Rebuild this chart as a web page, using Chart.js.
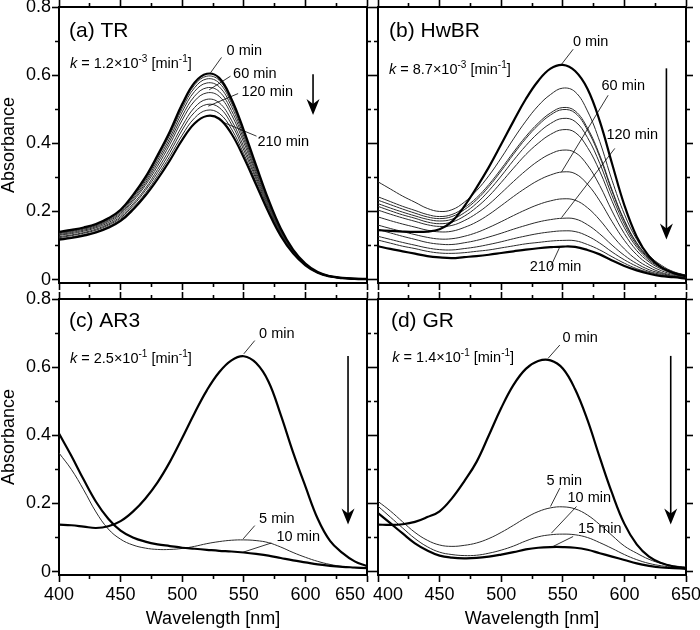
<!DOCTYPE html>
<html>
<head>
<meta charset="utf-8">
<script src="https://cdn.jsdelivr.net/npm/chart.js@4.4.1/dist/chart.umd.min.js"></script>
<style>
  body { margin: 0; background: #fff; }
  #wrap { position: relative; width: 700px; height: 630px; }
  canvas { position: absolute; }
</style>
</head>
<body>
<div id="wrap">
  <canvas id="panelA" width="372" height="290" style="left:0;top:0"></canvas>
  <canvas id="panelB" width="328" height="290" style="left:372px;top:0"></canvas>
  <canvas id="panelC" width="372" height="340" style="left:0;top:290px"></canvas>
  <canvas id="panelD" width="328" height="340" style="left:372px;top:290px"></canvas>
</div>
<script>
// wavelength grid shared by all spectra (nm)
const wavelengths = [400, 410, 420, 430, 440, 450, 460, 470, 480, 490, 500, 510, 520,
                     530, 540, 550, 560, 570, 580, 590, 600, 610, 620, 630, 640, 650];

// axis ticks
const xMajorTicks = [400, 450, 500, 550, 600, 650];
const xTicks = [400, 425, 450, 475, 500, 525, 550, 575, 600, 625, 650];
const yMajorTicks = [0, 0.2, 0.4, 0.6, 0.8];
const yTickLabels = ['0', '0.2', '0.4', '0.6', '0.8'];
const yTicks = [0, 0.1, 0.2, 0.3, 0.4, 0.5, 0.6, 0.7, 0.8];

// (a) TR, 0 min (top) ... 210 min (bottom)
const tr0 = [0.140,0.146,0.153,0.163,0.180,0.205,0.248,0.300,0.365,0.435,0.515,0.578,0.604,0.592,0.530,0.438,0.335,0.235,0.150,0.088,0.047,0.022,0.010,0.005,0.003,0.002];
const tr1 = [0.139,0.145,0.152,0.162,0.178,0.203,0.246,0.297,0.361,0.430,0.509,0.571,0.597,0.585,0.524,0.434,0.332,0.233,0.149,0.087,0.047,0.022,0.010,0.005,0.003,0.002];
const tr2 = [0.137,0.143,0.150,0.160,0.177,0.201,0.243,0.293,0.357,0.425,0.502,0.563,0.589,0.577,0.518,0.428,0.328,0.231,0.147,0.087,0.046,0.022,0.010,0.005,0.003,0.002];
const tr3 = [0.135,0.141,0.148,0.158,0.174,0.198,0.239,0.288,0.350,0.416,0.492,0.552,0.577,0.566,0.508,0.421,0.323,0.227,0.145,0.086,0.046,0.021,0.010,0.005,0.002,0.001];
const tr4 = [0.132,0.138,0.145,0.155,0.171,0.194,0.234,0.282,0.342,0.407,0.480,0.538,0.563,0.552,0.496,0.412,0.316,0.223,0.143,0.084,0.045,0.021,0.010,0.005,0.002,0.001];
const tr5 = [0.130,0.135,0.142,0.152,0.167,0.190,0.229,0.276,0.333,0.397,0.468,0.524,0.548,0.538,0.484,0.402,0.309,0.218,0.140,0.083,0.045,0.021,0.010,0.005,0.002,0.001];
const tr6 = [0.126,0.131,0.138,0.148,0.163,0.185,0.222,0.267,0.323,0.384,0.451,0.505,0.529,0.519,0.468,0.390,0.301,0.213,0.137,0.081,0.044,0.021,0.009,0.004,0.002,0.001];
const tr7 = [0.123,0.129,0.136,0.145,0.160,0.181,0.217,0.261,0.314,0.373,0.439,0.491,0.514,0.505,0.456,0.380,0.294,0.208,0.134,0.080,0.043,0.020,0.009,0.004,0.002,0.001];
const tr8 = [0.120,0.125,0.132,0.141,0.156,0.177,0.211,0.253,0.305,0.362,0.424,0.474,0.497,0.488,0.442,0.369,0.286,0.203,0.131,0.079,0.043,0.020,0.009,0.004,0.002,0.001];
const tr9 = [0.117,0.122,0.129,0.138,0.152,0.172,0.205,0.246,0.295,0.350,0.410,0.458,0.480,0.472,0.428,0.358,0.278,0.198,0.128,0.077,0.042,0.020,0.009,0.004,0.002,0.001];

// (b) HwBR
const hw0 = [0.145,0.143,0.141,0.140,0.141,0.148,0.170,0.215,0.270,0.330,0.397,0.465,0.530,0.583,0.619,0.630,0.612,0.560,0.465,0.340,0.218,0.126,0.068,0.036,0.019,0.010];
const hw1 = [0.287,0.266,0.245,0.227,0.209,0.200,0.205,0.227,0.261,0.305,0.357,0.413,0.465,0.510,0.543,0.562,0.551,0.495,0.405,0.291,0.192,0.118,0.071,0.042,0.023,0.013];
const hw2 = [0.243,0.229,0.215,0.203,0.191,0.185,0.191,0.211,0.240,0.279,0.325,0.374,0.420,0.459,0.489,0.505,0.495,0.445,0.365,0.263,0.174,0.108,0.065,0.038,0.022,0.012];
const hw3 = [0.233,0.220,0.207,0.195,0.184,0.179,0.185,0.205,0.234,0.273,0.319,0.368,0.414,0.453,0.483,0.499,0.489,0.439,0.360,0.259,0.171,0.106,0.063,0.037,0.021,0.012];
const hw4 = [0.223,0.210,0.198,0.187,0.177,0.172,0.177,0.196,0.224,0.261,0.304,0.350,0.393,0.430,0.458,0.473,0.464,0.417,0.341,0.246,0.163,0.101,0.061,0.035,0.020,0.011];
const hw5 = [0.215,0.202,0.190,0.180,0.169,0.164,0.169,0.186,0.212,0.245,0.285,0.327,0.367,0.400,0.426,0.440,0.432,0.388,0.318,0.230,0.152,0.095,0.057,0.034,0.019,0.010];
const hw6 = [0.204,0.192,0.181,0.171,0.161,0.156,0.159,0.173,0.194,0.221,0.254,0.288,0.320,0.348,0.369,0.380,0.373,0.336,0.276,0.201,0.135,0.085,0.052,0.031,0.018,0.010];
const hw7 = [0.184,0.173,0.163,0.154,0.145,0.140,0.142,0.153,0.169,0.191,0.217,0.244,0.269,0.291,0.307,0.316,0.311,0.280,0.231,0.170,0.115,0.073,0.044,0.026,0.015,0.008];
const hw8 = [0.160,0.150,0.141,0.132,0.124,0.119,0.120,0.127,0.138,0.153,0.170,0.188,0.205,0.220,0.231,0.237,0.233,0.211,0.175,0.130,0.090,0.058,0.036,0.021,0.012,0.007];
const hw9 = [0.147,0.137,0.127,0.118,0.109,0.104,0.103,0.108,0.115,0.125,0.136,0.148,0.159,0.169,0.176,0.180,0.178,0.161,0.134,0.101,0.071,0.047,0.029,0.018,0.010,0.006];
const hw10 = [0.127,0.118,0.109,0.101,0.093,0.088,0.087,0.091,0.096,0.103,0.111,0.120,0.128,0.135,0.140,0.143,0.141,0.128,0.107,0.081,0.058,0.039,0.024,0.015,0.009,0.005];
const hw11 = [0.116,0.107,0.098,0.091,0.083,0.078,0.077,0.079,0.083,0.087,0.093,0.099,0.105,0.109,0.113,0.115,0.114,0.103,0.087,0.067,0.048,0.032,0.021,0.012,0.008,0.004];
const hw12 = [0.098,0.090,0.083,0.076,0.069,0.065,0.063,0.066,0.069,0.073,0.078,0.083,0.088,0.092,0.095,0.097,0.096,0.087,0.074,0.056,0.040,0.027,0.017,0.010,0.007,0.003];

// (c) AR3
const ar0 = [0.138,0.136,0.132,0.128,0.133,0.148,0.176,0.214,0.262,0.322,0.392,0.465,0.532,0.585,0.620,0.632,0.612,0.558,0.460,0.350,0.250,0.155,0.090,0.055,0.030,0.016];
const ar5 = [0.348,0.300,0.240,0.175,0.125,0.095,0.078,0.069,0.065,0.065,0.068,0.074,0.082,0.088,0.092,0.093,0.091,0.085,0.072,0.056,0.042,0.030,0.021,0.015,0.011,0.009];
const ar10 = [0.405,0.340,0.270,0.205,0.155,0.120,0.100,0.088,0.080,0.075,0.070,0.067,0.064,0.061,0.059,0.056,0.052,0.047,0.040,0.033,0.027,0.021,0.017,0.014,0.012,0.010];

// (d) GR
const gr0 = [0.138,0.137,0.139,0.146,0.160,0.177,0.215,0.265,0.322,0.400,0.480,0.548,0.595,0.618,0.620,0.596,0.535,0.445,0.335,0.230,0.140,0.080,0.044,0.025,0.015,0.010];
const gr5 = [0.206,0.178,0.146,0.115,0.092,0.078,0.074,0.077,0.084,0.097,0.115,0.136,0.158,0.176,0.187,0.190,0.184,0.166,0.138,0.106,0.075,0.054,0.036,0.024,0.017,0.013];
const gr10 = [0.192,0.160,0.128,0.097,0.073,0.057,0.050,0.047,0.048,0.054,0.063,0.075,0.090,0.102,0.108,0.110,0.108,0.100,0.085,0.068,0.050,0.035,0.024,0.017,0.013,0.011];
const gr15 = [0.172,0.142,0.112,0.083,0.062,0.047,0.041,0.039,0.040,0.044,0.050,0.057,0.065,0.070,0.072,0.072,0.070,0.064,0.054,0.044,0.034,0.024,0.017,0.012,0.010,0.008];

const FONT = '"Liberation Sans", Arial, Helvetica, sans-serif';
Chart.defaults.font.family = FONT;
Chart.defaults.color = '#000';

function drawRate(ctx, x, y, mant, exp) {
  const parts = [
    { t: 'k', f: 'italic 14.5px ' + FONT },
    { t: ' = ' + mant + '\u00d710', f: '14.5px ' + FONT },
    { t: exp, f: '10px ' + FONT, dy: -6 },
    { t: ' [min', f: '14.5px ' + FONT },
    { t: '-1', f: '10px ' + FONT, dy: -6 },
    { t: ']', f: '14.5px ' + FONT }
  ];
  let cx = x;
  parts.forEach(p => {
    ctx.font = p.f;
    ctx.fillText(p.t, cx, y + (p.dy || 0));
    cx += ctx.measureText(p.t).width;
  });
}

function drawArrow(ctx, x, yTop, yTip) {
  ctx.lineWidth = 1.6;
  ctx.beginPath();
  ctx.moveTo(x, yTop);
  ctx.lineTo(x, yTip - 8);
  ctx.stroke();
  ctx.beginPath();
  ctx.moveTo(x, yTip);
  ctx.lineTo(x - 6.5, yTip - 16);
  ctx.lineTo(x, yTip - 11);
  ctx.lineTo(x + 6.5, yTip - 16);
  ctx.closePath();
  ctx.fill();
}

// panel labels, rate constants, time labels with leader lines, arrows
const annotate = {
  id: 'annotate',
  afterDatasetsDraw(chart, args, o) {
    const { ctx, scales: { x, y } } = chart;
    const px = v => x.getPixelForValue(v);
    const py = v => y.getPixelForValue(v);
    ctx.save();
    ctx.fillStyle = '#000';
    ctx.strokeStyle = '#000';
    ctx.textBaseline = 'alphabetic';
    ctx.textAlign = 'left';

    ctx.font = '21px ' + FONT;
    ctx.fillText(o.title.text, px(o.title.at[0]), py(o.title.at[1]));

    drawRate(ctx, px(o.rate.at[0]), py(o.rate.at[1]), o.rate.mant, o.rate.exp);

    ctx.font = '14.5px ' + FONT;
    ctx.lineWidth = 0.8;
    o.labels.forEach(l => {
      ctx.fillText(l.text, px(l.at[0]), py(l.at[1]));
      ctx.beginPath();
      ctx.moveTo(px(l.from[0]), py(l.from[1]));
      ctx.lineTo(px(l.to[0]), py(l.to[1]));
      ctx.stroke();
    });

    drawArrow(ctx, px(o.arrow.x), py(o.arrow.from), py(o.arrow.to));

    if (o.xLabels) {
      ctx.font = '18px ' + FONT;
      const base = chart.chartArea.bottom + 25;
      xMajorTicks.forEach(v => {
        const side = o.xLabels[v];
        if (side === 'right') {
          ctx.textAlign = 'right';
          ctx.fillText(String(v), px(v) - 2, base);
        } else if (side === 'left') {
          ctx.textAlign = 'left';
          ctx.fillText(String(v), px(v) - 5, base);
        } else {
          ctx.textAlign = 'center';
          ctx.fillText(String(v), px(v), base);
        }
      });
    }
    ctx.restore();
  }
};

function gridFor(position, isMajor) {
  const outerFirst = position === 'left' || position === 'top';
  return {
    display: true,
    drawOnChartArea: false,
    drawTicks: true,
    tickLength: 7,
    tickColor: '#000',
    tickWidth: 1.6,
    tickBorderDash: c => (!c.tick || isMajor(c.tick.value)) ? [] : (outerFirst ? [0, 3, 3, 30] : [3, 30])
  };
}

function xAxis(position, size, withTitle) {
  return {
    type: 'linear', position, min: 400, max: 650,
    afterBuildTicks: s => { s.ticks = xTicks.map(v => ({ value: v })); },
    afterFit: s => { s.height = size; s.paddingLeft = 0; s.paddingRight = 0; },
    ticks: { display: false },
    grid: gridFor(position, v => xMajorTicks.includes(v)),
    border: { display: true, color: '#000', width: 2 },
    title: withTitle
      ? { display: true, text: 'Wavelength [nm]', color: '#000', font: { size: 18, lineHeight: 1 }, padding: { top: 0, bottom: 2 } }
      : { display: false }
  };
}

function yAxis(position, size, withLabels) {
  return {
    type: 'linear', position, min: -0.01, max: 0.8,
    afterBuildTicks: s => { s.ticks = yTicks.map(v => ({ value: v })); },
    afterFit: s => { s.width = size; s.paddingTop = 0; s.paddingBottom = 0; },
    ticks: {
      display: withLabels, color: '#000', padding: 1, font: { size: 18 },
      callback: v => { const i = yMajorTicks.indexOf(v); return i < 0 ? '' : yTickLabels[i]; }
    },
    grid: gridFor(position, v => yMajorTicks.includes(v)),
    border: { display: true, color: '#000', width: 2 },
    title: withLabels
      ? { display: true, text: 'Absorbance', color: '#000', font: { size: 18, lineHeight: 1 }, padding: { top: 0, bottom: 0 } }
      : { display: false }
  };
}

function makePanel(id, cfg) {
  const datasets = cfg.series.map(s => ({
    data: wavelengths.map((w, i) => ({ x: w, y: s.values[i] })),
    borderColor: s.thick ? '#000' : '#2a2a2a',
    borderWidth: s.thick ? 2.2 : 1,
    pointRadius: 0,
    tension: 0.4,
    fill: false
  }));
  return new Chart(document.getElementById(id), {
    type: 'line',
    data: { datasets },
    options: {
      responsive: false,
      animation: false,
      events: [],
      layout: { padding: 0 },
      plugins: { legend: { display: false }, tooltip: { enabled: false }, annotate: cfg.notes },
      scales: {
        x: xAxis('bottom', cfg.box.bottom, cfg.bottomRow),
        x2: xAxis('top', cfg.box.top, false),
        y: yAxis('left', cfg.box.left, cfg.leftCol),
        y2: yAxis('right', cfg.box.right, false)
      }
    },
    plugins: [annotate]
  });
}

makePanel('panelA', {
  box: { left: 59, right: 5, top: 7, bottom: 7 },
  leftCol: true, bottomRow: false,
  series: [
    { values: tr0, thick: true }, { values: tr9, thick: true },
    { values: tr1 }, { values: tr2 }, { values: tr3 }, { values: tr4 },
    { values: tr5 }, { values: tr6 }, { values: tr7 }, { values: tr8 }
  ],
  notes: {
    title: { text: '(a) TR', at: [408.1, 0.712] },
    rate: { at: [408.9, 0.621], mant: '1.2', exp: '-3' },
    labels: [
      { text: '0 min', at: [536, 0.659], from: [531.9, 0.652], to: [523, 0.607] },
      { text: '60 min', at: [541.3, 0.591], from: [539.2, 0.597], to: [521.9, 0.557] },
      { text: '120 min', at: [548.1, 0.5385], from: [545.4, 0.546], to: [521.1, 0.509] },
      { text: '210 min', at: [561.1, 0.392], from: [560.3, 0.421], to: [533, 0.462] }
    ],
    arrow: { x: 606.2, from: 0.603, to: 0.483 }
  }
});

makePanel('panelB', {
  box: { left: 6, right: 14, top: 7, bottom: 7 },
  leftCol: false, bottomRow: false,
  series: [
    { values: hw0, thick: true }, { values: hw12, thick: true },
    { values: hw1 }, { values: hw2 }, { values: hw3 }, { values: hw4 }, { values: hw5 }, { values: hw6 },
    { values: hw7 }, { values: hw8 }, { values: hw9 }, { values: hw10 }, { values: hw11 }
  ],
  notes: {
    title: { text: '(b) HwBR', at: [408.9, 0.711] },
    rate: { at: [408.9, 0.603], mant: '8.7', exp: '-3' },
    labels: [
      { text: '0 min', at: [558.2, 0.685], from: [558.4, 0.676], to: [549, 0.632] },
      { text: '60 min', at: [581.4, 0.556], from: [586.8, 0.541], to: [549, 0.316] },
      { text: '120 min', at: [585.4, 0.414], from: [592.2, 0.385], to: [549, 0.182] },
      { text: '210 min', at: [523.2, 0.025], from: [540, 0.037], to: [547.6, 0.096] }
    ],
    arrow: { x: 634.1, from: 0.62, to: 0.1175 }
  }
});

makePanel('panelC', {
  box: { left: 59, right: 5, top: 9, bottom: 55 },
  leftCol: true, bottomRow: true,
  series: [
    { values: ar0, thick: true }, { values: ar10, thick: true }, { values: ar5 }
  ],
  notes: {
    title: { text: '(c) AR3', at: [408.1, 0.719] },
    rate: { at: [408.9, 0.613], mant: '2.5', exp: '-1' },
    labels: [
      { text: '0 min', at: [562.4, 0.685], from: [558.9, 0.678], to: [550, 0.639] },
      { text: '5 min', at: [562.4, 0.143], from: [558.9, 0.135], to: [549.5, 0.096] },
      { text: '10 min', at: [576.5, 0.089], from: [572.4, 0.084], to: [549.5, 0.057] }
    ],
    arrow: { x: 634.6, from: 0.633, to: 0.138 },
    xLabels: { 650: 'right' }
  }
});

makePanel('panelD', {
  box: { left: 6, right: 14, top: 9, bottom: 55 },
  leftCol: false, bottomRow: true,
  series: [
    { values: gr0, thick: true }, { values: gr15, thick: true }, { values: gr5 }, { values: gr10 }
  ],
  notes: {
    title: { text: '(d) GR', at: [410.5, 0.719] },
    rate: { at: [411.6, 0.616], mant: '1.4', exp: '-1' },
    labels: [
      { text: '0 min', at: [549.7, 0.675], from: [547.6, 0.665], to: [538.1, 0.626] },
      { text: '5 min', at: [536.8, 0.255], from: [547.6, 0.245], to: [540, 0.191] },
      { text: '10 min', at: [553.8, 0.203], from: [561.1, 0.191], to: [540.8, 0.113] },
      { text: '15 min', at: [562.4, 0.113], from: [558.4, 0.103], to: [542.2, 0.074] }
    ],
    arrow: { x: 637.6, from: 0.633, to: 0.138 },
    xLabels: { 400: 'left' }
  }
});
</script>
</body>
</html>
